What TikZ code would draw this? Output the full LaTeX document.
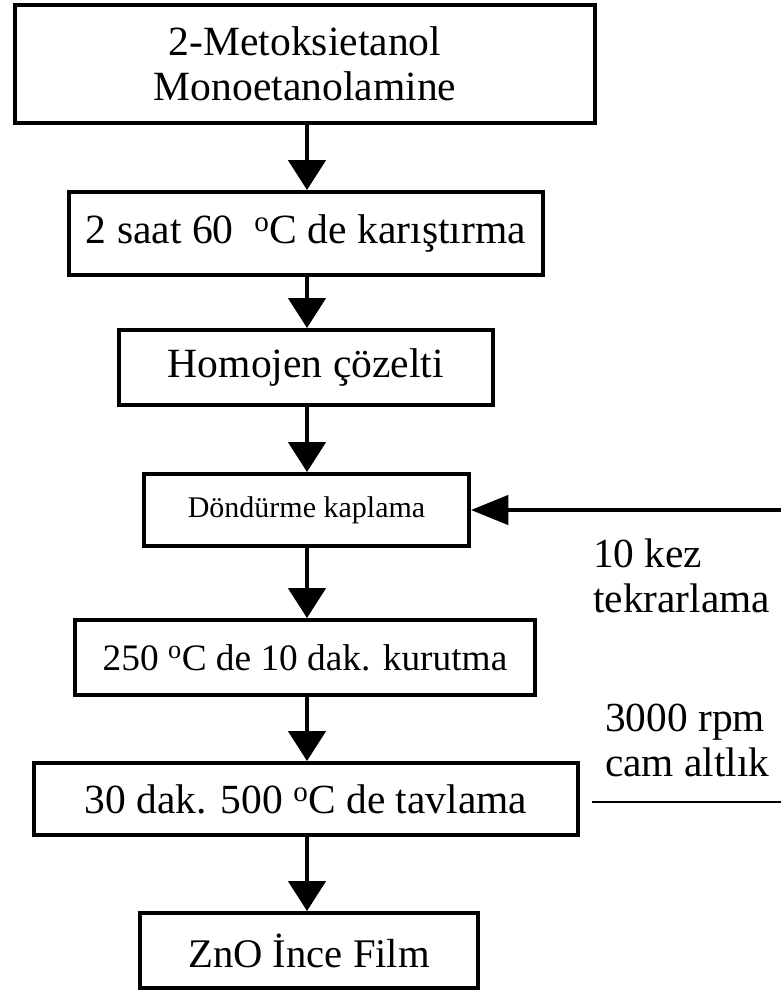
\documentclass[tikz,border=0pt]{standalone}
\usepackage{fontspec}
\setmainfont{Liberation Serif}
\usetikzlibrary{arrows.meta}
\begin{document}
\begin{tikzpicture}[x=0.75pt,y=-0.75pt,
  box/.style={draw=black, line width=3pt, fill=white, inner sep=0pt, align=center, text=black},
  flow/.style={line width=3pt, -{Triangle[length=22.5pt,width=28pt]}},
  back/.style={line width=2.6pt, -{Triangle[length=28pt,width=22pt]}},
  plain/.style={line width=2.2pt},
  lab/.style={inner sep=0pt, align=left, anchor=west, font=\fontsize{31}{33.75}\selectfont}
]
\useasboundingbox (0,0) rectangle (781,993);
\node[box, minimum width=435pt, minimum height=88.5pt, font=\fontsize{31.2}{33.75}\selectfont] (b1) at (305,64) {2-Metoksietanol\\Monoetanolamine};
\node[box, minimum width=355.5pt, minimum height=62.25pt, font=\fontsize{31.2}{33.75}\selectfont] (b2) at (306,233.5) {2 saat 60~~\textsuperscript{o}C de karıştırma};
\node[box, minimum width=280.5pt, minimum height=56.25pt, font=\fontsize{31.2}{33.75}\selectfont] (b3) at (306,367.5) {Homojen çözelti};
\node[box, minimum width=243.75pt, minimum height=54pt, font=\fontsize{22.5}{27}\selectfont] (b4) at (306.5,510) {Döndürme kaplama};
\node[box, minimum width=345pt, minimum height=56.25pt, font=\fontsize{28}{33}\selectfont] (b5) at (305,657.5) {250 \textsuperscript{o}C de 10 dak. kurutma};
\node[box, minimum width=408pt, minimum height=54pt, font=\fontsize{31.1}{33.75}\selectfont] (b6) at (306,799) {30 dak. 500 \textsuperscript{o}C de tavlama};
\node[box, minimum width=253.5pt, minimum height=56.25pt, font=\fontsize{30.5}{33.75}\selectfont] (b7) at (309,950.5) {ZnO İnce Film};

\draw[flow] (b1.south -| 307,0) -- (b2.north -| 307,0);
\draw[flow] (b2.south -| 307,0) -- (b3.north -| 307,0);
\draw[flow] (b3.south -| 307,0) -- (b4.north -| 307,0);
\draw[flow] (b4.south -| 307,0) -- (b5.north -| 307,0);
\draw[flow] (b5.south -| 307,0) -- (b6.north -| 307,0);
\draw[flow] (b6.south -| 307,0) -- (b7.north -| 307,0);

\coordinate (rin) at (781,510);
\draw[back] (rin) -- (b4.east);
\coordinate (ls) at (592,802);
\coordinate (le) at (781,802);
\draw[plain] (ls) -- (le);

\node[lab] (t1) at (593,575.5) {10 kez\\tekrarlama};
\node[lab] (t2) at (605,740.5) {3000 rpm\\cam altlık};
\end{tikzpicture}
\end{document}
